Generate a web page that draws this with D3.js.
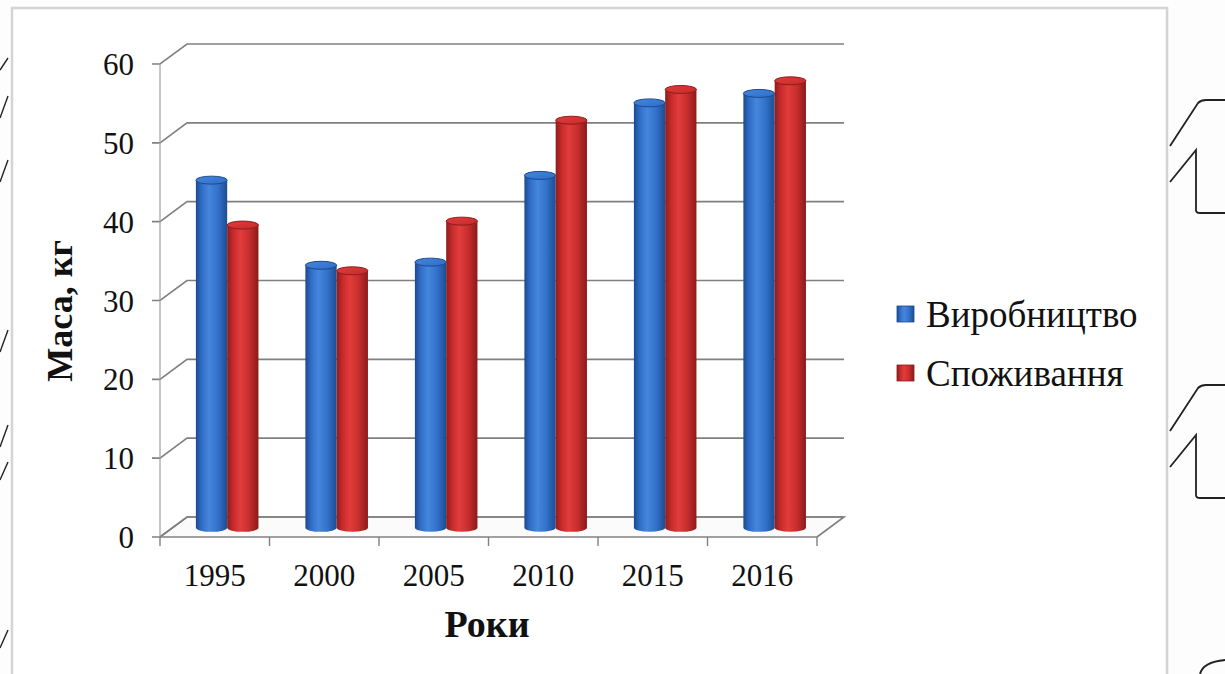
<!DOCTYPE html>
<html>
<head>
<meta charset="utf-8">
<script src="https://cdn.jsdelivr.net/npm/d3@7/dist/d3.min.js"></script>
<style>
  html, body { margin: 0; padding: 0; background: #ffffff; }
  svg { display: block; }
  text { font-family: "Liberation Serif", "Times New Roman", serif; fill: #111; }
</style>
</head>
<body>
<svg id="chart" width="1225" height="674"></svg>
<script>
// Categories (years) and the two series, kg per person
const years = ["1995", "2000", "2005", "2010", "2015", "2016"];
const seriesNames = ["Виробництво", "Споживання"];
const production = [44.1, 33.3, 33.7, 44.7, 53.9, 55.1];
const consumption = [38.4, 32.6, 38.9, 51.7, 55.6, 56.7];
const yTicks = [0, 10, 20, 30, 40, 50, 60];

const svg = d3.select("#chart");
const W = 1225, H = 674;

// Plot frame of the pseudo-3D box
const front = { left: 160, right: 817, bottom: 537, top: 64 };
const depth = { dx: 27, dy: -20 };        // back wall offset
const barDepth = 0.46;                      // bars stand at this fraction of the depth

const x = d3.scaleBand().domain(years).range([front.left, front.right]).padding(0);
const inner = d3.scaleBand().domain(seriesNames).range([0, x.bandwidth()]).paddingInner(0).paddingOuter(0.75);
const y = d3.scaleLinear().domain([0, 60]).range([front.bottom, front.top]);

const colors = {
  "Виробництво": ["#1b4a90", "#2f6cc6", "#4587dc", "#3372cc", "#1d4d92"],
  "Споживання": ["#8e1c1c", "#c42a2a", "#e23c3c", "#c82e2e", "#8c1a1a"]
};

// Chart-area frame and outside background
svg.append("rect").attr("x", 0).attr("y", 0).attr("width", W).attr("height", H).attr("fill", "#fdfdfd");
svg.append("path")
  .attr("d", `M12,${H} V8 H1167 V${H}`)
  .attr("fill", "#ffffff").attr("stroke", "#d4d4d4").attr("stroke-width", 2.5);

// Decorative shapes at the page margins
const deco = svg.append("g").attr("fill", "none").attr("stroke", "#222").attr("stroke-width", 1.8);
[100, 385].forEach(t => {
  deco.append("path").attr("d", `M1170,${t + 46} L1198,${t + 3} Q1201,${t} 1206,${t} H1225`);
  deco.append("path").attr("d", `M1170,${t + 82} L1196,${t + 50} V${t + 110} Q1196,${t + 113} 1200,${t + 113} H1225`);
});
deco.append("path").attr("d", "M1200,674 Q1203,662 1225,660");
[[58, 70], [96, 118], [160, 182], [330, 352], [425, 447], [462, 480], [630, 648]].forEach(([a, b]) => {
  deco.append("path").attr("d", `M0,${b} L8,${a}`).attr("stroke-width", 1.4);
});

const g = svg.append("g");
const grid = "#808080";

// Floor
const fl = front.left, fr = front.right, fb = front.bottom;
g.append("path")
  .attr("d", `M${fl},${fb} L${fl + depth.dx},${fb + depth.dy} L${fr + depth.dx},${fb + depth.dy} L${fr},${fb}`)
  .attr("fill", "#fbfbfb").attr("stroke", grid).attr("stroke-width", 1.6);

// Gridlines on the back wall with the side-wall connectors
yTicks.forEach(t => {
  const yy = y(t);
  g.append("path")
    .attr("d", `M${fl - 8},${yy} L${fl},${yy} L${fl + depth.dx},${yy + depth.dy} L${fr + depth.dx},${yy + depth.dy}`)
    .attr("fill", "none").attr("stroke", grid).attr("stroke-width", 1.6);
});

// Value axis
g.append("line").attr("x1", fl).attr("x2", fl).attr("y1", y(60)).attr("y2", fb)
  .attr("stroke", "#a0a0a0").attr("stroke-width", 1.2);
g.selectAll(".ylab").data(yTicks).join("text")
  .attr("x", 134).attr("y", d => y(d)).attr("dy", "0.36em")
  .attr("text-anchor", "end").attr("font-size", 31).text(d => d);

// Category axis
g.append("line").attr("x1", fl).attr("x2", fr).attr("y1", fb).attr("y2", fb)
  .attr("stroke", grid).attr("stroke-width", 1.6);
d3.range(years.length + 1).forEach(i => {
  const xx = fl + i * x.bandwidth();
  g.append("line").attr("x1", xx).attr("x2", xx).attr("y1", fb).attr("y2", fb + 9)
    .attr("stroke", grid).attr("stroke-width", 1.4);
});
g.selectAll(".xlab").data(years).join("text")
  .attr("x", d => x(d) + x.bandwidth() / 2).attr("y", 586)
  .attr("text-anchor", "middle").attr("font-size", 31).text(d => d);

// Gradients for cylinders
const defs = svg.append("defs");
seriesNames.forEach((s, k) => {
  const lg = defs.append("linearGradient").attr("id", "grad" + k).attr("x1", "0").attr("x2", "1").attr("y1", "0").attr("y2", "0");
  const stops = [0, 0.18, 0.42, 0.7, 1];
  colors[s].forEach((c, i) => lg.append("stop").attr("offset", stops[i]).attr("stop-color", c));
  const tg = defs.append("linearGradient").attr("id", "top" + k).attr("x1", "0").attr("x2", "1").attr("y1", "0").attr("y2", "1");
  tg.append("stop").attr("offset", 0).attr("stop-color", colors[s][2]);
  tg.append("stop").attr("offset", 1).attr("stop-color", colors[s][1]);
});

// Cylinders
const data = years.map((yr, i) => ({ year: yr, values: [production[i], consumption[i]] }));
const offX = depth.dx * barDepth, offY = depth.dy * barDepth;
const ry = 4;
const bars = g.append("g");
data.forEach(d => {
  d.values.forEach((v, k) => {
    const s = seriesNames[k];
    const bx = x(d.year) + inner(s) + offX;
    const w = inner.bandwidth();
    const yTop = y(v) + offY, yBot = y(0) + offY;
    const cg = bars.append("g");
    cg.append("path")
      .attr("d", `M${bx},${yTop} V${yBot} A${w / 2},${ry} 0 0 0 ${bx + w},${yBot} V${yTop} Z`)
      .attr("fill", `url(#grad${k})`);
    cg.append("ellipse")
      .attr("cx", bx + w / 2).attr("cy", yTop).attr("rx", w / 2).attr("ry", ry)
      .attr("fill", `url(#top${k})`).attr("stroke", colors[s][0]).attr("stroke-width", 1);
  });
});

// Axis titles
svg.append("text")
  .attr("transform", "translate(72,311) rotate(-90)")
  .attr("text-anchor", "middle").attr("font-size", 36).attr("font-weight", "bold")
  .text("Маса, кг");
svg.append("text")
  .attr("x", 487).attr("y", 637)
  .attr("text-anchor", "middle").attr("font-size", 38).attr("font-weight", "bold")
  .text("Роки");

// Legend
const legend = svg.append("g");
seriesNames.forEach((s, k) => {
  const ly = 314 + k * 59;
  legend.append("rect").attr("x", 897).attr("y", ly - 8).attr("width", 17).attr("height", 16)
    .attr("fill", `url(#grad${k})`).attr("stroke", colors[s][0]).attr("stroke-width", 0.8);
  legend.append("text").attr("x", 926).attr("y", ly).attr("dy", "0.36em")
    .attr("font-size", 37).text(s);
});
</script>
</body>
</html>
